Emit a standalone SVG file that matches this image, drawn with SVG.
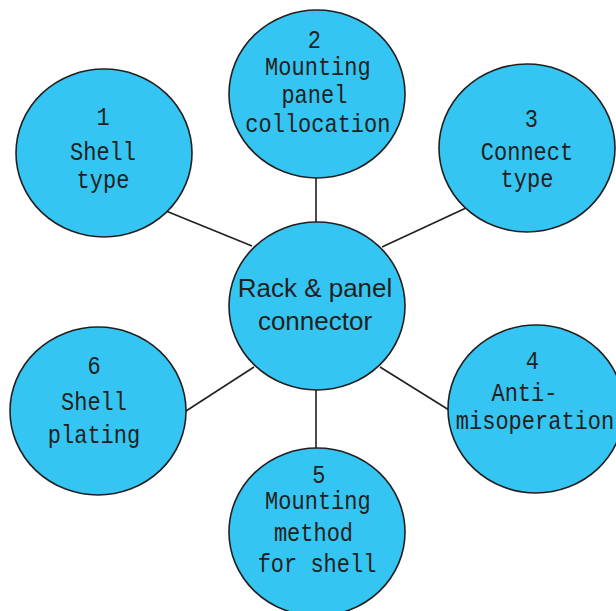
<svg xmlns="http://www.w3.org/2000/svg" width="616" height="611" viewBox="0 0 616 611">
<style>
.c{fill:#35c5f2;stroke:#231f20;stroke-width:1.6}
.ln{stroke:#231f20;stroke-width:1.6;fill:none}
.m{font-family:"Liberation Mono","DejaVu Sans Mono",monospace;font-size:25px;fill:#231f20;text-anchor:middle}
.s{font-family:"Liberation Sans",Arial,sans-serif;font-size:26px;fill:#231f20;text-anchor:middle}
</style>
<rect width="616" height="611" fill="#ffffff"/>
<g id="connectors">
<line class="ln" x1="252" y1="246" x2="166" y2="211"/>
<line class="ln" x1="316" y1="222" x2="316" y2="177"/>
<line class="ln" x1="382" y1="247" x2="466" y2="208"/>
<line class="ln" x1="254" y1="367" x2="186" y2="411"/>
<line class="ln" x1="380" y1="367" x2="449" y2="410"/>
<line class="ln" x1="316" y1="390" x2="316" y2="449"/>
</g>
<g id="node-center">
<ellipse class="c" cx="317" cy="306" rx="88" ry="84"/>
<text class="s" x="315" y="297">Rack &amp; panel</text>
<text class="s" x="315" y="330">connector</text>
</g>
<g id="node-1">
<ellipse class="c" cx="104" cy="153" rx="88" ry="84"/>
<g transform="translate(103,0) scale(0.88,1)">
<text class="m" x="0" y="125">1</text>
<text class="m" x="0" y="160">Shell</text>
<text class="m" x="0" y="188">type</text>
</g>
</g>
<g id="node-2">
<ellipse class="c" cx="317" cy="94" rx="88" ry="84"/>
<g transform="translate(317,0) scale(0.88,1)">
<text class="m" x="-3" y="48">2</text>
<text class="m" x="1" y="75">Mounting</text>
<text class="m" x="-3" y="103">panel</text>
<text class="m" x="1" y="132">collocation</text>
</g>
</g>
<g id="node-3">
<ellipse class="c" cx="527" cy="148" rx="88" ry="84"/>
<g transform="translate(527,0) scale(0.88,1)">
<text class="m" x="5" y="127">3</text>
<text class="m" x="0" y="160">Connect</text>
<text class="m" x="0" y="187">type</text>
</g>
</g>
<g id="node-4">
<ellipse class="c" cx="536" cy="409" rx="88" ry="84"/>
<g transform="translate(535,0) scale(0.88,1)">
<text class="m" x="-3" y="369">4</text>
<text class="m" x="-12" y="401">Anti-</text>
<text class="m" x="0" y="429">misoperation</text>
</g>
</g>
<g id="node-5">
<ellipse class="c" cx="317" cy="532" rx="88" ry="84"/>
<g transform="translate(317,0) scale(0.88,1)">
<text class="m" x="2" y="483">5</text>
<text class="m" x="1" y="509">Mounting</text>
<text class="m" x="-4" y="541">method</text>
<text class="m" x="0" y="572">for shell</text>
</g>
</g>
<g id="node-6">
<ellipse class="c" cx="98" cy="411" rx="88" ry="84"/>
<g transform="translate(94,0) scale(0.88,1)">
<text class="m" x="0" y="374">6</text>
<text class="m" x="0" y="410">Shell</text>
<text class="m" x="0" y="443">plating</text>
</g>
</g>
</svg>
